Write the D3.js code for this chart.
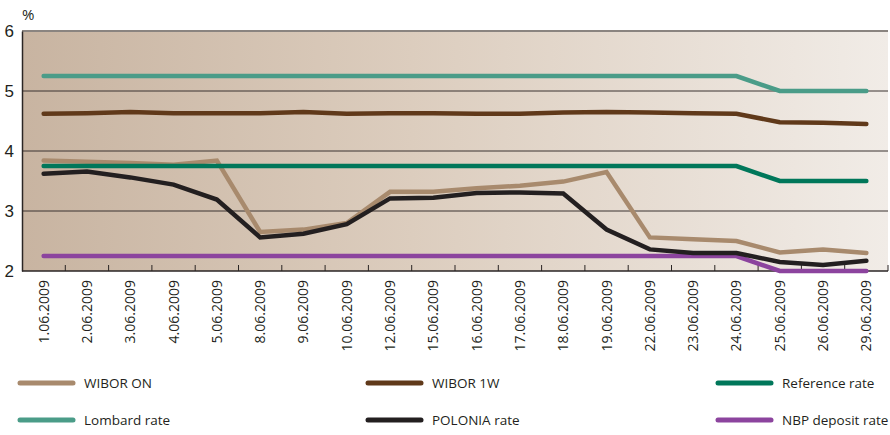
<!DOCTYPE html>
<html>
<head>
<meta charset="utf-8" />
<title>Interest rates June 2009</title>
<style>
  body { margin: 0; background: #fff; }
  #chart svg { display: block; font-family: "Open Sans", sans-serif; }
</style>
</head>
<body>
<div id="chart"></div>
<script src="https://cdnjs.cloudflare.com/ajax/libs/d3/7.8.5/d3.min.js"></script>
<script>
var dates = ["1.06.2009","2.06.2009","3.06.2009","4.06.2009","5.06.2009","8.06.2009","9.06.2009",
  "10.06.2009","12.06.2009","15.06.2009","16.06.2009","17.06.2009","18.06.2009","19.06.2009",
  "22.06.2009","23.06.2009","24.06.2009","25.06.2009","26.06.2009","29.06.2009"];
var yTicks = [2, 3, 4, 5, 6];

var wiborOn  = [3.84,3.82,3.80,3.77,3.84,2.65,2.69,2.80,3.32,3.32,3.38,3.42,3.49,3.65,2.56,2.53,2.50,2.31,2.36,2.30];
var wibor1w  = [4.62,4.63,4.65,4.63,4.63,4.63,4.65,4.62,4.63,4.63,4.62,4.62,4.64,4.65,4.64,4.63,4.62,4.48,4.47,4.45];
var reference = [3.75,3.75,3.75,3.75,3.75,3.75,3.75,3.75,3.75,3.75,3.75,3.75,3.75,3.75,3.75,3.75,3.75,3.50,3.50,3.50];
var lombard  = [5.25,5.25,5.25,5.25,5.25,5.25,5.25,5.25,5.25,5.25,5.25,5.25,5.25,5.25,5.25,5.25,5.25,5.00,5.00,5.00];
var polonia  = [3.62,3.66,3.56,3.44,3.19,2.56,2.62,2.78,3.21,3.22,3.30,3.31,3.29,2.69,2.36,2.30,2.30,2.15,2.10,2.17];
var deposit  = [2.25,2.25,2.25,2.25,2.25,2.25,2.25,2.25,2.25,2.25,2.25,2.25,2.25,2.25,2.25,2.25,2.25,2.00,2.00,2.00];

var series = [
  {name: "WIBOR ON", values: wiborOn, color: "#a88a6d"},
  {name: "WIBOR 1W", values: wibor1w, color: "#60391a"},
  {name: "Reference rate", values: reference, color: "#00775a"},
  {name: "Lombard rate", values: lombard, color: "#4a9c88"},
  {name: "POLONIA rate", values: polonia, color: "#231f20"},
  {name: "NBP deposit rate", values: deposit, color: "#8c449e"}
];
// drawing order (last on top)
var drawOrder = ["WIBOR ON", "NBP deposit rate", "WIBOR 1W", "Lombard rate", "Reference rate", "POLONIA rate"];

var width = 890, height = 435;
var margin = {top: 31, left: 22, right: 2, bottom: 164};

var svg = d3.select("#chart").append("svg")
  .attr("width", width)
  .attr("height", height);

var x = d3.scaleBand().domain(dates).range([margin.left, width - margin.right]);
var y = d3.scaleLinear().domain([2, 6]).range([height - margin.bottom, margin.top]);

var defs = svg.append("defs");
var grad = defs.append("linearGradient").attr("id", "bg").attr("x1", "0").attr("x2", "1").attr("y1", "0").attr("y2", "0");
grad.append("stop").attr("offset", "0").attr("stop-color", "#c8b4a1");
grad.append("stop").attr("offset", "0.45").attr("stop-color", "#dccdbe");
grad.append("stop").attr("offset", "1").attr("stop-color", "#f1ece7");

svg.append("rect")
  .attr("x", margin.left).attr("y", margin.top)
  .attr("width", width - margin.right - margin.left)
  .attr("height", y(2) - y(6))
  .attr("fill", "url(#bg)");

// grid lines
svg.append("g").selectAll("line")
  .data([3, 4, 5])
  .join("line")
  .attr("x1", margin.left).attr("x2", width - margin.right)
  .attr("y1", function(d) { return y(d); }).attr("y2", function(d) { return y(d); })
  .attr("stroke", "#3a3330").attr("stroke-width", 1);

svg.append("line")
  .attr("x1", margin.left).attr("x2", width - margin.right)
  .attr("y1", y(6)).attr("y2", y(6))
  .attr("stroke", "#8a8480").attr("stroke-width", 2);

// y axis
var yAxis = svg.append("g")
  .attr("transform", "translate(" + margin.left + ",0)")
  .call(d3.axisLeft(y).tickValues(yTicks).tickSize(0).tickPadding(8).tickFormat(d3.format("d")));
yAxis.select(".domain").attr("stroke", "#2a2524").attr("stroke-width", 1.5);
yAxis.selectAll("text").attr("font-size", 17).attr("fill", "#231f20");

svg.append("text")
  .attr("x", margin.left).attr("y", 20)
  .attr("font-size", 15).attr("fill", "#231f20")
  .text("%");

// x axis with inner ticks at band boundaries
var bottom = y(2);
svg.append("line")
  .attr("x1", margin.left).attr("x2", width - margin.right)
  .attr("y1", bottom).attr("y2", bottom)
  .attr("stroke", "#2a2524").attr("stroke-width", 1.5);

svg.append("g").selectAll("line")
  .data(dates)
  .join("line")
  .attr("x1", function(d) { return x(d) + x.bandwidth(); })
  .attr("x2", function(d) { return x(d) + x.bandwidth(); })
  .attr("y1", bottom).attr("y2", bottom - 6)
  .attr("stroke", "#2a2524").attr("stroke-width", 1);

svg.append("g").selectAll("text")
  .data(dates)
  .join("text")
  .attr("transform", function(d) {
    return "translate(" + (x(d) + x.bandwidth() / 2) + "," + (bottom + 9) + ") rotate(-90)";
  })
  .attr("text-anchor", "end")
  .attr("dy", "0.36em")
  .attr("font-size", 14)
  .attr("fill", "#231f20")
  .text(function(d) { return d; });

// lines
var line = d3.line()
  .x(function(d, i) { return x(dates[i]) + x.bandwidth() / 2; })
  .y(function(d) { return y(d); });

var byName = {};
series.forEach(function(s) { byName[s.name] = s; });

svg.append("g").selectAll("path")
  .data(drawOrder.map(function(n) { return byName[n]; }))
  .join("path")
  .attr("d", function(s) { return line(s.values); })
  .attr("fill", "none")
  .attr("stroke", function(s) { return s.color; })
  .attr("stroke-width", 4.5)
  .attr("stroke-linecap", "round");

// legend
var legendCols = [20, 368, 718];
var legendRows = [383, 420];
var legend = svg.append("g").selectAll("g")
  .data(series)
  .join("g")
  .attr("transform", function(s, i) {
    return "translate(" + legendCols[i % 3] + "," + legendRows[Math.floor(i / 3)] + ")";
  });
legend.append("line")
  .attr("x1", 0).attr("x2", 53)
  .attr("stroke", function(s) { return s.color; })
  .attr("stroke-width", 5)
  .attr("stroke-linecap", "round");
legend.append("text")
  .attr("x", 64).attr("dy", "0.35em")
  .attr("font-size", 13.5)
  .attr("fill", "#231f20")
  .text(function(s) { return s.name; });
</script>
</body>
</html>
